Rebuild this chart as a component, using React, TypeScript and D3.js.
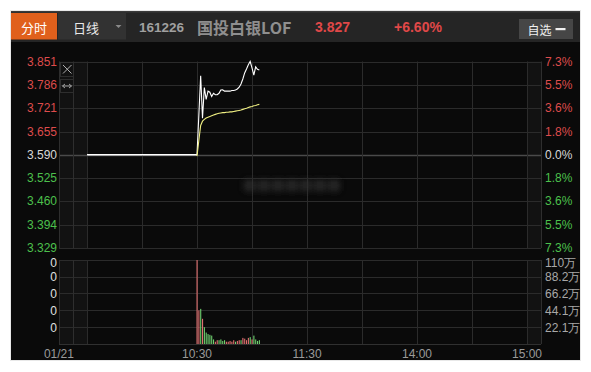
import React from "react";
import * as d3 from "d3";

// ---- data ----
const priceTicks = [3.851, 3.786, 3.721, 3.655, 3.59, 3.525, 3.46, 3.394, 3.329];
const priceTickLabels = ["3.851", "3.786", "3.721", "3.655", "3.590", "3.525", "3.460", "3.394", "3.329"];
const pctTickLabels = ["7.3%", "5.5%", "3.6%", "1.8%", "0.0%", "1.8%", "3.6%", "5.5%", "7.3%"];
const volTicks = [110, 88.2, 66.2, 44.1, 22.1];
const volTickLabels = ["110万", "88.2万", "66.2万", "44.1万", "22.1万"];
const leftVolLabels = ["0", "0", "0", "0", "0"];
const timeTickMinutes = [-15.3, 60, 120, 180, 240];
const timeTickLabels = ["01/21", "10:30", "11:30", "14:00", "15:00"];
const gridMinutes = [0, 30, 60, 90, 120, 150, 180, 210, 240];
const preClose = 3.59;
const suspendedMinutes = [0, 60];
const tradeStart = 60;
const prices = [
  3.59, 3.7, 3.811, 3.692, 3.778, 3.745, 3.768, 3.765, 3.753, 3.762, 3.758, 3.758,
  3.762, 3.771, 3.772, 3.768, 3.768, 3.768, 3.768, 3.77, 3.77, 3.771, 3.774, 3.779,
  3.788, 3.802, 3.819, 3.83, 3.842, 3.851, 3.833, 3.813, 3.836, 3.829, 3.827,
];
const avgPrices = [
  3.586, 3.63, 3.672, 3.684, 3.689, 3.693, 3.695, 3.697, 3.699, 3.701, 3.703, 3.705,
  3.706, 3.707, 3.708, 3.708, 3.709, 3.709, 3.71, 3.71, 3.711, 3.712, 3.713, 3.714,
  3.715, 3.717, 3.719, 3.72, 3.722, 3.724, 3.725, 3.727, 3.728, 3.73, 3.731,
];
const volumes = [
  110, 44, 46, 33, 22, 15, 13, 12, 11, 6, 3, 5, 5, 6, 4, 5, 3, 3, 4, 3, 5, 3, 4, 5,
  5, 8, 7, 5, 8, 9, 6, 11, 6, 4, 5,
];
const volumeUp = [
  1, 1, 0, 1, 0, 0, 0, 0, 0, 0, 1, 1, 0, 0, 0, 0, 1, 1, 1, 1, 1, 0, 1, 1, 0, 1, 1, 1,
  1, 0, 1, 0, 0, 0, 0,
];

// ---- layout ----
const W = 591, H = 372;
const FX0 = 11, FX1 = 580, FY0 = 11, FY1 = 360;
const PL = 59, PR = 541, PZ = 73, ZL = 87, ZR = 527;
const PT = 61.5, PB = 248;
const VT = 260, VB = 344;
const FONT = "'Liberation Sans', Arial, sans-serif";
const RED = "#de4c4c";
const GREEN = "#4cc04c";
const GRID = "#2b2b2b";

export default function App() {
  const x = d3.scaleLinear().domain([0, 240]).range([ZL, ZR]);
  const y = d3.scaleLinear().domain([3.329, 3.851]).range([PB, PT]);
  const yv = d3.scaleLinear().domain([0, 110]).range([VB, VT]);

  const line = d3
    .line<[number, number]>()
    .x((d) => x(d[0]))
    .y((d) => y(d[1]));

  const flatPts: [number, number][] = suspendedMinutes.map((m) => [m, preClose]);
  const pricePts: [number, number][] = prices.map((p, i) => [tradeStart + i, p]);
  const avgPts: [number, number][] = avgPrices.map((p, i) => [tradeStart + i, p]);

  const labelColor = (i: number) => (i < 4 ? RED : i === 4 ? "#d8d8d8" : GREEN);

  return (
    <svg
      width={W}
      height={H}
      style={{ position: "absolute", left: 0, top: 0, background: "#fff" }}
      fontFamily={FONT}
    >
      <defs>
        <filter id="blur" x="-20%" y="-50%" width="140%" height="200%">
          <feGaussianBlur stdDeviation="3" />
        </filter>
      </defs>
      {/* frame */}
      <rect x={FX0 - 1} y={FY0 - 1} width={FX1 - FX0 + 2} height={FY1 - FY0 + 2} fill="#e8e8e8" />
      <rect x={FX0} y={FY0} width={FX1 - FX0} height={FY1 - FY0} fill="#0a0a0a" />
      {/* header */}
      <rect x={FX0} y={FY0} width={FX1 - FX0} height={31} fill="#252525" />
      <rect x={FX0} y={FY0} width={FX1 - FX0} height={1.5} fill="#3a3a3a" />
      <rect x={FX0} y={13} width={46} height={26.5} fill="#e0601c" />
      <text x={34} y={27} fill="#fff" fontSize={13} textAnchor="middle" dominantBaseline="central"
        fontFamily="'Noto Sans CJK SC', sans-serif">分时</text>
      <rect x={58} y={13} width={68} height={26.5} fill="#323232" />
      <text x={73} y={27} fill="#e8e8e8" fontSize={13} dominantBaseline="central"
        fontFamily="'Noto Sans CJK SC', sans-serif">日线</text>
      <path d="M115.5,25 L121.5,25 L118.5,28 Z" fill="#8a8a8a" />
      <text x={139} y={27} fill="#a0a0a0" fontSize={13.5} fontWeight="bold" dominantBaseline="central">161226</text>
      <text x={197} y={26.5} fill="#8f8f8f" fontSize={16} fontWeight="bold" dominantBaseline="central"
        fontFamily="'Noto Sans CJK SC', sans-serif">国投白银LOF</text>
      <text x={315} y={27} fill="#e04848" fontSize={14} fontWeight="bold" dominantBaseline="central">3.827</text>
      <text x={394} y={27} fill="#e04848" fontSize={14} fontWeight="bold" dominantBaseline="central">+6.60%</text>
      <rect x={519} y={19} width={54} height={20} fill="#464646" />
      <text x={527.5} y={29} fill="#f0f0f0" fontSize={12} dominantBaseline="central"
        fontFamily="'Noto Sans CJK SC', sans-serif">自选</text>
      <rect x={555.5} y={28} width={10} height={2.2} fill="#f0f0f0" />

      {/* side zones */}
      <rect x={PL} y={PT} width={ZL - PL} height={PB - PT} fill="#121212" />
      <rect x={PL} y={VT} width={ZL - PL} height={VB - VT} fill="#121212" />
      <rect x={ZR} y={PT} width={PR - ZR} height={PB - PT} fill="#121212" />
      <rect x={ZR} y={VT} width={PR - ZR} height={VB - VT} fill="#121212" />

      {/* price grid */}
      {priceTicks.map((t, i) => (
        <line key={"pg" + i} x1={PL} x2={PR} y1={Math.round(y(t)) + 0.5} y2={Math.round(y(t)) + 0.5}
          stroke={i === 4 ? "#4a4a4a" : GRID} strokeWidth={i === 4 ? 1.5 : 1} />
      ))}
      {volTicks.map((t, i) => (
        <line key={"vg" + i} x1={PL} x2={PR} y1={Math.round(yv(t)) + 0.5} y2={Math.round(yv(t)) + 0.5} stroke={GRID} />
      ))}
      <line x1={PL} x2={PR} y1={VB + 0.5} y2={VB + 0.5} stroke="#303030" />
      {[PL, PZ, PR].map((px, i) => (
        <g key={"vz" + i}>
          <line x1={px + 0.5} x2={px + 0.5} y1={PT} y2={PB} stroke="#2e2e2e" />
          <line x1={px + 0.5} x2={px + 0.5} y1={VT} y2={VB} stroke="#2e2e2e" />
        </g>
      ))}
      {gridMinutes.map((m, i) => (
        <g key={"xg" + i}>
          <line x1={Math.round(x(m)) + 0.5} x2={Math.round(x(m)) + 0.5} y1={PT} y2={PB} stroke={GRID} />
          <line x1={Math.round(x(m)) + 0.5} x2={Math.round(x(m)) + 0.5} y1={VT} y2={VB} stroke={GRID} />
        </g>
      ))}

      {/* icons */}
      <rect x={60.5} y={62.5} width={13} height={14} fill="none" stroke="#2e2e2e" />
      <path d="M63,65 L71.5,73.5 M71.5,65 L63,73.5" stroke="#b0b0b0" strokeWidth={1} />
      <rect x={60.5} y={79.5} width={13} height={13} fill="none" stroke="#2e2e2e" />
      <path d="M62.5,86 L71.5,86 M62.5,86 L65,84 M62.5,86 L65,88 M71.5,86 L69,84 M71.5,86 L69,88"
        stroke="#a0a0a0" strokeWidth={1} fill="none" />

      {/* watermark blur */}
      <text x={292} y={184} fill="#303030" opacity={0.8} fontSize={14} textAnchor="middle" dominantBaseline="central"
        filter="url(#blur)" fontFamily="'Noto Sans CJK SC', sans-serif">■■■■■■■</text>

      {/* price lines */}
      <path d={line(flatPts) || ""} fill="none" stroke="#ffffff" strokeWidth={1.6} />
      <path d={line(pricePts) || ""} fill="none" stroke="#ffffff" strokeWidth={1.1} />
      <path d={line(avgPts) || ""} fill="none" stroke="#efef82" strokeWidth={1.1} />

      {/* volume bars */}
      {volumes.map((v, i) => (
        <rect key={"vb" + i} x={x(tradeStart + i) - 0.5} y={yv(v)} width={1.1} height={VB - yv(v)}
          fill={volumeUp[i] ? "#e07070" : "#6fcf6f"} />
      ))}

      {/* axis labels */}
      {priceTicks.map((t, i) => (
        <g key={"pl" + i}>
          <text x={57} y={y(t)} fill={labelColor(i)} fontSize={12} textAnchor="end" dominantBaseline="central">
            {priceTickLabels[i]}
          </text>
          <text x={545} y={y(t)} fill={labelColor(i)} fontSize={12} dominantBaseline="central">
            {pctTickLabels[i]}
          </text>
        </g>
      ))}
      {volTicks.map((t, i) => (
        <g key={"vl" + i}>
          <text x={57} y={yv(t) + (i === 0 ? 2.5 : 0.5)} fill="#e0e0e0" fontSize={12} textAnchor="end"
            dominantBaseline="central">{leftVolLabels[i]}</text>
          <text x={545} y={yv(t) + (i === 0 ? 2.5 : 0.5)} fill="#a8a8a8" fontSize={12}
            dominantBaseline="central">{volTickLabels[i]}</text>
        </g>
      ))}
      {timeTickMinutes.map((m, i) => (
        <text key={"tl" + i} x={x(m)} y={353.5} fill="#9a9a9a" fontSize={12} textAnchor="middle"
          dominantBaseline="central">{timeTickLabels[i]}</text>
      ))}
    </svg>
  );
}
